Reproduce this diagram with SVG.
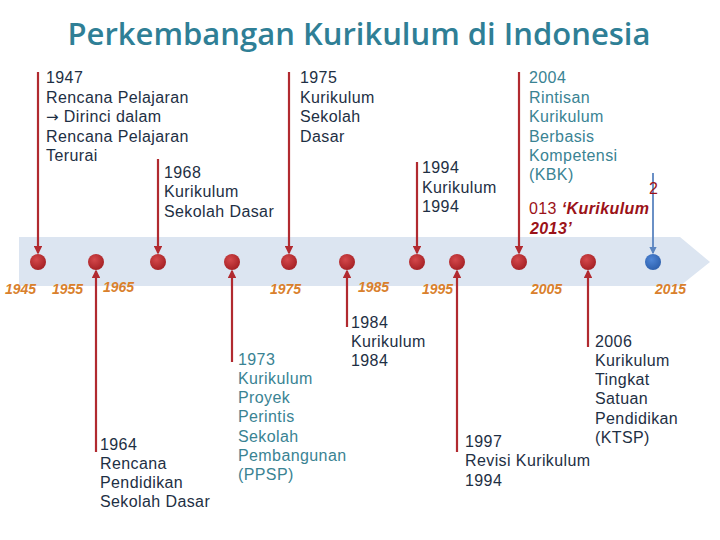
<svg xmlns="http://www.w3.org/2000/svg" width="720" height="540" viewBox="0 0 720 540">
<defs>
<style>
.t{font-family:"Liberation Sans",Arial,sans-serif;font-size:16px;letter-spacing:0.4px;fill:#1e2f44}
.tl{fill:#3a8393}
.yr{font-family:"Liberation Sans",Arial,sans-serif;font-size:14px;font-weight:bold;font-style:italic;fill:#d9802c}
.ln{stroke:#b12a30;stroke-width:2.2;fill:none}
.lb{stroke:#5a84c0;stroke-width:1.8;fill:none}
.dr{fill:#9b1218}
</style>
<radialGradient id="gr" cx="0.4" cy="0.35" r="0.7">
<stop offset="0" stop-color="#d4484b"/><stop offset="1" stop-color="#a31f23"/>
</radialGradient>
<radialGradient id="gb" cx="0.4" cy="0.35" r="0.7">
<stop offset="0" stop-color="#4f86d6"/><stop offset="1" stop-color="#2c5eab"/>
</radialGradient>
<marker id="ar" viewBox="0 0 6 6" refX="5" refY="3" markerWidth="4" markerHeight="4" orient="auto"><path d="M0,0 L6,3 L0,6 z" fill="#b12a30"/></marker>
<marker id="ab" viewBox="0 0 6 6" refX="5" refY="3" markerWidth="4" markerHeight="4" orient="auto"><path d="M0,0 L6,3 L0,6 z" fill="#5a84c0"/></marker>
</defs>
<rect width="720" height="540" fill="#ffffff"/>
<text x="359" y="45" text-anchor="middle" font-family="'Open Sans','Noto Sans',sans-serif" font-size="31" font-weight="600" fill="#2f7f96">Perkembangan Kurikulum di Indonesia</text>
<g id="band"><path d="M19,237 L680,237 L710,262 L680,286 L19,286 z" fill="#dce5f1"/></g>
<g id="connectors">
<line class="ln" x1="38" y1="72" x2="38" y2="253" marker-end="url(#ar)"/>
<line class="ln" x1="158" y1="159" x2="158" y2="253" marker-end="url(#ar)"/>
<line class="ln" x1="289" y1="72" x2="289" y2="253" marker-end="url(#ar)"/>
<line class="ln" x1="417" y1="162" x2="417" y2="253" marker-end="url(#ar)"/>
<line class="ln" x1="519" y1="72" x2="519" y2="253" marker-end="url(#ar)"/>
<line class="lb" x1="653" y1="173" x2="653" y2="253" marker-end="url(#ab)"/>
<line class="ln" x1="96" y1="452" x2="96" y2="271" marker-end="url(#ar)"/>
<line class="ln" x1="232" y1="362" x2="232" y2="271" marker-end="url(#ar)"/>
<line class="ln" x1="347" y1="327" x2="347" y2="271" marker-end="url(#ar)"/>
<line class="ln" x1="457" y1="452" x2="457" y2="271" marker-end="url(#ar)"/>
<line class="ln" x1="588" y1="347" x2="588" y2="271" marker-end="url(#ar)"/>
</g>
<g id="dots">
<circle cx="38" cy="262" r="8" fill="url(#gr)"/>
<circle cx="96" cy="262" r="8" fill="url(#gr)"/>
<circle cx="158" cy="262" r="8" fill="url(#gr)"/>
<circle cx="232" cy="262" r="8" fill="url(#gr)"/>
<circle cx="289" cy="262" r="8" fill="url(#gr)"/>
<circle cx="347" cy="262" r="8" fill="url(#gr)"/>
<circle cx="417" cy="262" r="8" fill="url(#gr)"/>
<circle cx="457" cy="262" r="8" fill="url(#gr)"/>
<circle cx="519" cy="262" r="8" fill="url(#gr)"/>
<circle cx="588" cy="262" r="8" fill="url(#gr)"/>
<circle cx="653" cy="262" r="8" fill="url(#gb)"/>
</g>
<g id="years">
<text class="yr" x="5" y="294">1945</text>
<text class="yr" x="52" y="294">1955</text>
<text class="yr" x="103" y="292">1965</text>
<text class="yr" x="270" y="294">1975</text>
<text class="yr" x="358" y="292">1985</text>
<text class="yr" x="422" y="294">1995</text>
<text class="yr" x="531" y="294">2005</text>
<text class="yr" x="655" y="294">2015</text>
</g>
<g id="n1947"><text class="t" x="46" y="83">1947<tspan x="46" y="103">Rencana Pelajaran</tspan><tspan x="46" y="122" font-family="'DejaVu Sans',sans-serif" font-size="15">→</tspan><tspan> Dirinci dalam</tspan><tspan x="46" y="142">Rencana Pelajaran</tspan><tspan x="46" y="161">Terurai</tspan></text></g>
<g id="n1968"><text class="t" x="164" y="178">1968<tspan x="164" y="197">Kurikulum</tspan><tspan x="164" y="217">Sekolah Dasar</tspan></text></g>
<g id="n1975"><text class="t" x="300" y="83">1975<tspan x="300" y="103">Kurikulum</tspan><tspan x="300" y="122">Sekolah</tspan><tspan x="300" y="142">Dasar</tspan></text></g>
<g id="n1994"><text class="t" x="422" y="173">1994<tspan x="422" y="193">Kurikulum</tspan><tspan x="422" y="212">1994</tspan></text></g>
<g id="n2004"><text class="t tl" x="529" y="83">2004<tspan x="529" y="103">Rintisan</tspan><tspan x="529" y="122">Kurikulum</tspan><tspan x="529" y="142">Berbasis</tspan><tspan x="529" y="161">Kompetensi</tspan><tspan x="529" y="180">(KBK)</tspan></text></g>
<g id="n2013"><text class="t dr" x="649" y="194">2</text><text class="t dr" x="529" y="214">013 <tspan font-weight="bold" font-style="italic">‘Kurikulum</tspan></text><text class="t dr" x="530" y="234" font-weight="bold" font-style="italic">2013’</text></g>
<g id="n1964"><text class="t" x="100" y="450">1964<tspan x="100" y="469">Rencana</tspan><tspan x="100" y="488">Pendidikan</tspan><tspan x="100" y="507">Sekolah Dasar</tspan></text></g>
<g id="n1973"><text class="t tl" x="238" y="365">1973<tspan x="238" y="384">Kurikulum</tspan><tspan x="238" y="403">Proyek</tspan><tspan x="238" y="422">Perintis</tspan><tspan x="238" y="442">Sekolah</tspan><tspan x="238" y="461">Pembangunan</tspan><tspan x="238" y="480">(PPSP)</tspan></text></g>
<g id="n1984"><text class="t" x="351" y="328">1984<tspan x="351" y="347">Kurikulum</tspan><tspan x="351" y="366">1984</tspan></text></g>
<g id="n1997"><text class="t" x="465" y="447">1997<tspan x="465" y="466">Revisi Kurikulum</tspan><tspan x="465" y="486">1994</tspan></text></g>
<g id="n2006"><text class="t" x="595" y="347">2006<tspan x="595" y="366">Kurikulum</tspan><tspan x="595" y="385">Tingkat</tspan><tspan x="595" y="404">Satuan</tspan><tspan x="595" y="424">Pendidikan</tspan><tspan x="595" y="443">(KTSP)</tspan></text></g>
</svg>
